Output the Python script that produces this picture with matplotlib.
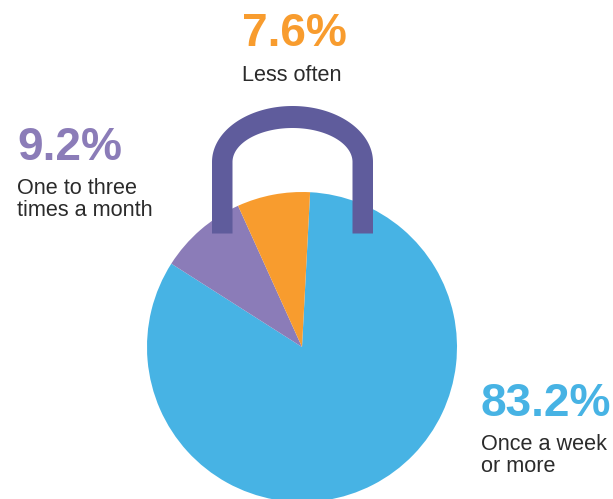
import numpy as np
import matplotlib
matplotlib.use("Agg")
import matplotlib.pyplot as plt
from matplotlib.patches import Polygon

categories = ["Once a week\nor more", "One to three\ntimes a month", "Less often"]
values = [83.2, 9.2, 7.6]
value_labels = ["83.2%", "9.2%", "7.6%"]
colors = ["#47B3E4", "#8B7CB8", "#F89C2E"]

W, H = 613, 499
plt.rcParams["font.family"] = ["Liberation Sans", "DejaVu Sans"]
fig = plt.figure(figsize=(W / 100, H / 100), dpi=100)
ax = fig.add_axes([0, 0, 1, 1])

ax.pie(values, colors=colors, startangle=87, counterclock=False,
       center=(302, H - 347), radius=155, frame=True,
       wedgeprops=dict(linewidth=0))
ax.set_xlim(0, W)
ax.set_ylim(0, H)
ax.set_aspect("equal")
ax.axis("off")

# padlock shackle
cx, cy = 292.5, H - 162
t = np.linspace(0, np.pi, 120)
outer = np.c_[cx + 80.5 * np.cos(t), cy + 56 * np.sin(t)]
inner = np.c_[cx + 60 * np.cos(t[::-1]), cy + 34 * np.sin(t[::-1])]
bottom = H - 233.5
pts = np.vstack([[[cx + 80.5, bottom]], outer, [[cx - 80.5, bottom]],
                 [[cx - 60, bottom]], inner, [[cx + 60, bottom]]])
ax.add_patch(Polygon(pts, closed=True, facecolor="#5F5C9C", edgecolor="none", zorder=5))

# label positions: x, value baseline, text baseline (px from top)
pos = [(481, 416.5, 450), (17, 160, 194), (242, 46, 81)]
txt_color = "#2B2B2B"
for (x, yv, yt), vl, cat, c in zip(pos, value_labels, categories, colors):
    ax.text(x, H - yv, vl, color=c, fontsize=33.1, fontweight="bold",
            ha="left", va="baseline")
    for i, line in enumerate(cat.split("\n")):
        ax.text(x, H - (yt + i * 21.5), line, color=txt_color, fontsize=15.6,
                ha="left", va="baseline")

fig.savefig("out.png", dpi=100)
